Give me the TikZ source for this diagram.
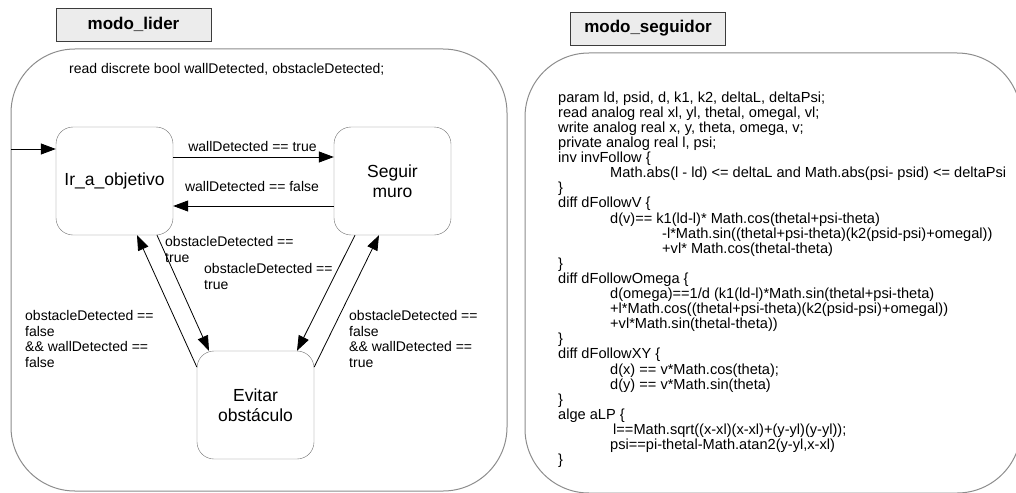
\documentclass[tikz,border=0pt]{standalone}
\usepackage{fontspec}
\setmainfont{Liberation Sans}
\usetikzlibrary{arrows.meta,calc}

\tikzset{
	state/.style={draw=stategray, rounded corners=17pt, minimum width=117pt,
		minimum height=108pt, inner sep=0pt, align=center,
		font=\fontsize{17.5}{20}\selectfont},
	titlebox/.style={draw=titlegray, fill=titlefill, minimum width=155pt,
		minimum height=33pt, inner sep=0pt, font=\fontsize{17}{20}\selectfont\bfseries},
	trans/.style={draw, line width=0.8pt, -{Triangle[length=15pt,width=11pt]}},
	guard/.style={inner sep=0pt, align=left, font=\fontsize{14}{15.8}\selectfont},
}

\begin{document}
\begin{tikzpicture}[x=1pt, y=-1pt]
				\definecolor{stategray}{RGB}{110, 110, 110}
				\definecolor{titlegray}{RGB}{60, 60, 60}
				\definecolor{titlefill}{RGB}{236, 236, 236}
				\definecolor{framegray}{RGB}{140, 140, 140}
				\useasboundingbox (0,0) rectangle (1016,492);
				% modo lider
				\draw[framegray, line width=1pt, rounded corners=64pt] (11,49) rectangle (507,491);
				\node[titlebox] (lider) at (133.5,24.5) {modo\_lider};
				\node[guard, anchor=base west] (decl) at (69,74) {read discrete bool wallDetected, obstacleDetected;};
				\node[state] (ir) at (114.5,181) {Ir\_a\_objetivo};
				\node[state] (seg) at (392.5,181) {Seguir\\muro};
				\node[state] (ev) at (255.5,405) {Evitar\\obst\'aculo};
				\coordinate (ini) at (11,149);
				\draw[trans] (ini) -- ($(ir.west)+(0,-32)$);
				\draw[trans] ($(ir.east)+(0,-24)$) -- ($(seg.west)+(0,-24)$);
				\draw[trans] ($(seg.west)+(0,25)$) -- ($(ir.east)+(0,25)$);
				\draw[trans] ($(ev.west)+(0,-38)$) -- ($(ir.south)+(22.5,0)$);
				\draw[trans] ($(ir.south)+(42.5,0)$) -- ($(ev.north)+(-46.5,0)$);
				\draw[trans] ($(seg.south)+(-37.5,0)$) -- ($(ev.north)+(41.5,0)$);
				\draw[trans] ($(ev.east)+(0,-38)$) -- ($(seg.south)+(-13.5,0)$);
				\node[guard, anchor=base] (gwt) at (252.5,151) {wallDetected == true};
				\node[guard, anchor=base] (gwf) at (252,191) {wallDetected == false};
				\node[guard, anchor=north west] (go1) at (165,236.5) {obstacleDetected ==\\true};
				\node[guard, anchor=north west] (go2) at (204,263) {obstacleDetected ==\\true};
				\node[guard, anchor=north west] (gl) at (25,310) {obstacleDetected ==\\false\\\&\& wallDetected ==\\false};
				\node[guard, anchor=north west] (gr) at (349,310) {obstacleDetected ==\\false\\\&\& wallDetected ==\\true};
				% modo seguidor
				\draw[framegray, line width=1pt, rounded corners=64pt] (525,53) rectangle (1021,493);
				\node[titlebox] (seguidor) at (648,28.5) {modo\_seguidor};
				\node[anchor=north west, inner sep=0pt, align=left,
					font=\fontsize{14.6}{15.1}\selectfont] (code) at (558,91.5) {%
					param ld, psid, d, k1, k2, deltaL, deltaPsi;\\
					read analog real xl, yl, thetal, omegal, vl;\\
					write analog real x, y, theta, omega, v;\\
					private analog real l, psi;\\
					inv invFollow \{\\
					\hspace*{52pt}Math.abs(l - ld) <= deltaL and Math.abs(psi- psid) <= deltaPsi\\
					\}\\
					diff dFollowV \{\\
					\hspace*{52pt}d(v)== k1(ld-l)* Math.cos(thetal+psi-theta)\\
					\hspace*{104pt}-l*Math.sin((thetal+psi-theta)(k2(psid-psi)+omegal))\\
					\hspace*{104pt}+vl* Math.cos(thetal-theta)\\
					\}\\
					diff dFollowOmega \{\\
					\hspace*{52pt}d(omega)==1/d (k1(ld-l)*Math.sin(thetal+psi-theta)\\
					\hspace*{52pt}+l*Math.cos((thetal+psi-theta)(k2(psid-psi)+omegal))\\
					\hspace*{52pt}+vl*Math.sin(thetal-theta))\\
					\}\\
					diff dFollowXY \{\\
					\hspace*{52pt}d(x) == v*Math.cos(theta);\\
					\hspace*{52pt}d(y) == v*Math.sin(theta)\\
					\}\\
					alge aLP \{\\
					\hspace*{55pt}l==Math.sqrt((x-xl)(x-xl)+(y-yl)(y-yl));\\
					\hspace*{52pt}psi==pi-thetal-Math.atan2(y-yl,x-xl)\\
					\}};
			\end{tikzpicture}
\end{document}
